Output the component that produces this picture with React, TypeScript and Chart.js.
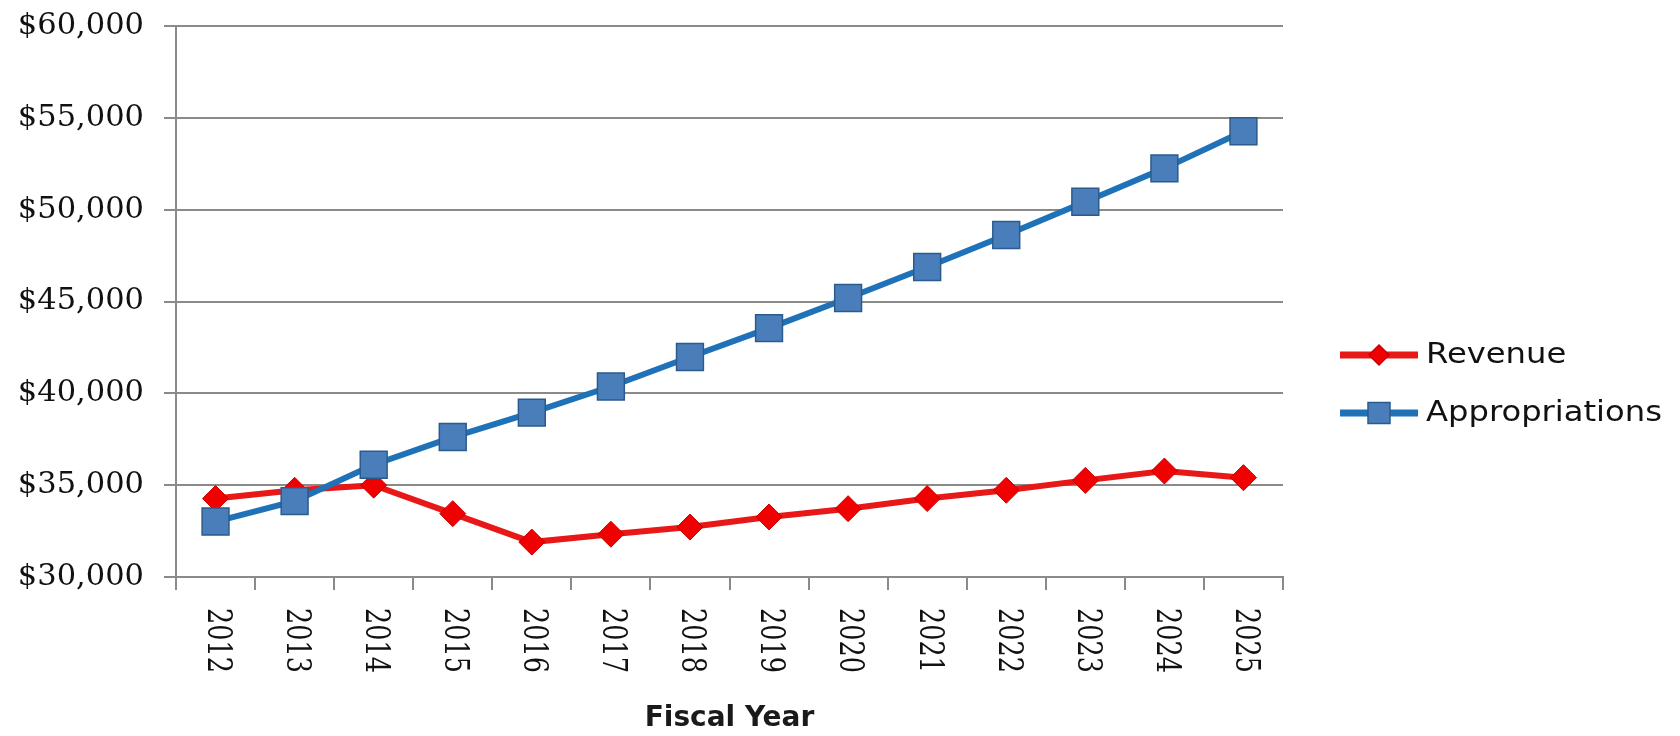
import React, { useEffect, useRef } from 'react';
import { Chart, registerables } from 'chart.js';

Chart.register(...registerables);

const years = ['2012', '2013', '2014', '2015', '2016', '2017', '2018', '2019', '2020', '2021', '2022', '2023', '2024', '2025'];
const revenue = [34270, 34720, 35000, 33450, 31900, 32330, 32720, 33270, 33720, 34270, 34720, 35260, 35770, 35410];
const appropriations = [33020, 34130, 36110, 37620, 38950, 40370, 41980, 43550, 45190, 46880, 48620, 50430, 52250, 54270];
const seriesNames = ['Revenue', 'Appropriations'];
const yMin = 30000;
const yMax = 60000;
const yStep = 5000;
const xTitle = 'Fiscal Year';

const RED_LINE = '#e81818';
const RED_FILL = '#f00000';
const RED_EDGE = '#c80000';
const BLUE_LINE = '#1f72b8';
const BLUE_FILL = '#4a7ebb';
const BLUE_EDGE = '#2b5b8c';
const GRID = '#8a8a8a';

const customText = {
  id: 'customText',
  afterDraw(chart: any) {
    const ctx = chart.ctx;
    const xs = chart.scales.x;
    // rotated x tick labels (top-to-bottom reading)
    ctx.save();
    ctx.fillStyle = '#111111';
    ctx.font = '25.5px "DejaVu Serif"';
    ctx.textAlign = 'left';
    ctx.textBaseline = 'middle';
    years.forEach((lab, i) => {
      const x = xs.getPixelForValue(i);
      ctx.save();
      ctx.translate(x + 1, xs.top + 31);
      ctx.rotate(Math.PI / 2);
      ctx.scale(1, 1.3);
      ctx.fillText(lab, 0, 0);
      ctx.restore();
    });
    ctx.restore();

    // legend
    const items = [
      { name: seriesNames[0], line: RED_LINE, fill: RED_FILL, edge: RED_EDGE, shape: 'diamond', y: 355 },
      { name: seriesNames[1], line: BLUE_LINE, fill: BLUE_FILL, edge: BLUE_EDGE, shape: 'square', y: 413 },
    ];
    const lx0 = 1340;
    const lx1 = 1418;
    const mx = (lx0 + lx1) / 2;
    items.forEach((it) => {
      ctx.save();
      ctx.strokeStyle = it.line;
      ctx.lineWidth = 7;
      ctx.beginPath();
      ctx.moveTo(lx0, it.y);
      ctx.lineTo(lx1, it.y);
      ctx.stroke();
      ctx.fillStyle = it.fill;
      ctx.strokeStyle = it.edge;
      ctx.lineWidth = 1.5;
      ctx.beginPath();
      if (it.shape === 'diamond') {
        const r = 10;
        ctx.moveTo(mx, it.y - r);
        ctx.lineTo(mx + r, it.y);
        ctx.lineTo(mx, it.y + r);
        ctx.lineTo(mx - r, it.y);
        ctx.closePath();
      } else {
        ctx.rect(mx - 11, it.y - 10.5, 22, 21);
      }
      ctx.fill();
      ctx.stroke();
      ctx.fillStyle = '#111111';
      ctx.font = '28px "DejaVu Sans"';
      ctx.textAlign = 'left';
      ctx.textBaseline = 'middle';
      ctx.translate(1426, it.y + 1);
      ctx.scale(1.15, 1);
      ctx.fillText(it.name, 0, 0);
      ctx.restore();
    });
  },
};

export default function App() {
  const ref = useRef<HTMLCanvasElement | null>(null);

  useEffect(() => {
    if (!ref.current) return;
    const chart = new Chart(ref.current, {
      type: 'line',
      data: {
        labels: years,
        datasets: [
          {
            label: seriesNames[0],
            data: revenue,
            borderColor: RED_LINE,
            borderWidth: 6,
            backgroundColor: RED_FILL,
            pointStyle: 'rectRot',
            pointRadius: 13,
            pointBackgroundColor: RED_FILL,
            pointBorderColor: RED_EDGE,
            pointBorderWidth: 1,
            tension: 0,
            order: 1,
          },
          {
            label: seriesNames[1],
            data: appropriations,
            borderColor: BLUE_LINE,
            borderWidth: 6,
            backgroundColor: BLUE_FILL,
            pointStyle: 'rect',
            pointRadius: 19,
            pointBackgroundColor: BLUE_FILL,
            pointBorderColor: BLUE_EDGE,
            pointBorderWidth: 1.5,
            tension: 0,
            order: 0,
          },
        ],
      },
      options: {
        responsive: false,
        animation: false,
        devicePixelRatio: 1,
        layout: { padding: { left: 0, right: 397, top: 26, bottom: 0 } },
        plugins: {
          legend: { display: false },
          tooltip: { enabled: false },
        },
        scales: {
          x: {
            offset: true,
            grid: {
              offset: true,
              drawOnChartArea: false,
              drawTicks: true,
              tickLength: 13,
              color: GRID,
              lineWidth: 2,
            },
            border: { display: true, color: GRID, width: 2 },
            ticks: { display: false },
            title: {
              display: true,
              text: xTitle,
              color: '#1a1a1a',
              font: { family: '"DejaVu Sans"', size: 28, weight: 'bold' },
              padding: { top: 0, bottom: 0 },
            },
            afterFit: (scale: any) => {
              scale.height = 159;
              scale.paddingLeft = 0;
              scale.paddingRight = 0;
            },
          },
          y: {
            min: yMin,
            max: yMax,
            ticks: {
              stepSize: yStep,
              color: '#111111',
              padding: 20,
              font: { family: '"DejaVu Serif"', size: 30.5 },
              callback: (v: any) => '$' + Number(v).toLocaleString('en-US'),
            },
            grid: {
              color: GRID,
              lineWidth: 2,
              tickLength: 12,
              drawTicks: true,
            },
            border: { display: true, color: GRID, width: 2 },
            afterFit: (scale: any) => {
              scale.width = 176;
              scale.paddingTop = 0;
              scale.paddingBottom = 0;
            },
          },
        },
      },
      plugins: [customText],
    });
    return () => chart.destroy();
  }, []);

  return (
    <div style={{ position: 'fixed', left: 0, top: 0, width: 1680, height: 736, background: '#ffffff' }}>
      <canvas ref={ref} width={1680} height={736} style={{ display: 'block' }} />
    </div>
  );
}
